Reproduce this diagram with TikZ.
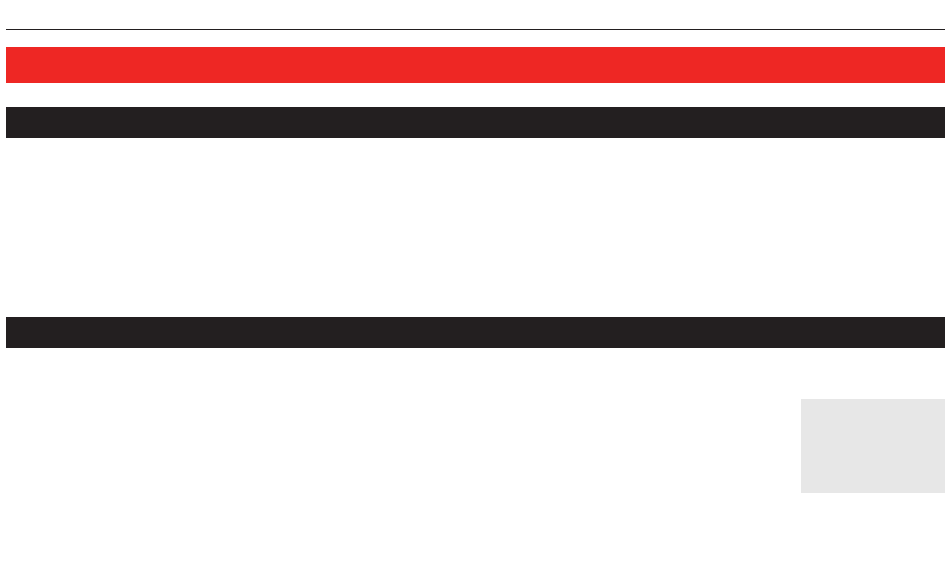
\documentclass[tikz,border=0pt]{standalone}
\usepackage{tikz}
\usetikzlibrary{positioning}
\definecolor{bandred}{HTML}{EE2724}
\definecolor{bandblack}{HTML}{231F20}
\definecolor{panelgrey}{HTML}{E7E7E7}

\begin{document}
\begin{tikzpicture}[x=1pt,y=-1pt,
    band/.style={fill=bandblack, draw=none}]
    \useasboundingbox (0,0) rectangle (950,575);
    \draw[bandblack, line width=1.2pt] (6,29.3) -- (944.5,29.3);
    \fill[bandred] (6,46.7) rectangle (944.5,82.7);
    \fill[band] (6,107.3) rectangle (944.5,138.3);
    \fill[band] (6,316.7) rectangle (944.5,347.7);
    \fill[panelgrey] (800.7,399.3) rectangle (944.5,493.3);
\end{tikzpicture}
\end{document}
